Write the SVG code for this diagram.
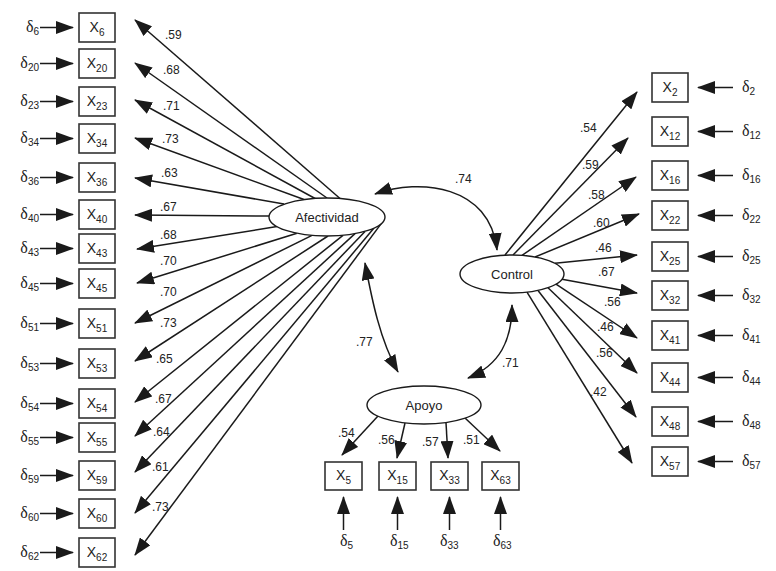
<svg xmlns="http://www.w3.org/2000/svg" width="776" height="571" viewBox="0 0 776 571">
<style>
.box{fill:#fff;stroke:#333;stroke-width:1.6}
.lat{fill:#fff;stroke:#1a1a1a;stroke-width:1.4}
.lnA{fill:none;stroke:#1a1a1a;stroke-width:1.5;marker-end:url(#ah)}
.lnB{fill:none;stroke:#1a1a1a;stroke-width:1.5;marker-start:url(#ah);marker-end:url(#ah)}
.x{font-family:"Liberation Sans",Arial,sans-serif;font-size:14px;fill:#222;text-anchor:middle}
.d{font-family:"Liberation Serif","Times New Roman",serif;font-size:16px;fill:#222}
.s{font-family:"Liberation Sans",Arial,sans-serif;font-size:10px}
.n{font-family:"Liberation Sans",Arial,sans-serif;font-size:12px;fill:#222}
.lt{font-family:"Liberation Sans",Arial,sans-serif;font-size:13px;fill:#222;text-anchor:middle}
</style>
<defs>
<marker id="ah" viewBox="0 0 18 13" refX="17" refY="6.5" markerWidth="18" markerHeight="13" markerUnits="userSpaceOnUse" orient="auto-start-reverse">
<path d="M0,0 L18,6.5 L0,13 z" fill="#1a1a1a"/>
</marker>
</defs>
<rect width="776" height="571" fill="#fff"/>

<g id="connectors">
<line class="lnA" x1="340" y1="198.5" x2="135" y2="20"/>
<line class="lnA" x1="327" y1="198" x2="135" y2="63"/>
<line class="lnA" x1="316" y1="199" x2="135" y2="100"/>
<line class="lnA" x1="304" y1="199.5" x2="135" y2="138"/>
<line class="lnA" x1="284" y1="204" x2="135" y2="178"/>
<line class="lnA" x1="269" y1="216" x2="135" y2="215"/>
<line class="lnA" x1="277" y1="226.6" x2="137" y2="249"/>
<line class="lnA" x1="297" y1="233.3" x2="137" y2="283"/>
<line class="lnA" x1="312" y1="235.4" x2="135" y2="323"/>
<line class="lnA" x1="328" y1="236" x2="135" y2="361"/>
<line class="lnA" x1="343" y1="235.3" x2="135" y2="402"/>
<line class="lnA" x1="355" y1="233.6" x2="135" y2="436"/>
<line class="lnA" x1="365" y1="231.4" x2="135" y2="472"/>
<line class="lnA" x1="374" y1="228.1" x2="135" y2="513"/>
<line class="lnA" x1="381" y1="223.9" x2="135" y2="555"/>
<line class="lnA" x1="505" y1="255" x2="637" y2="92"/>
<line class="lnA" x1="513" y1="255" x2="628" y2="138"/>
<line class="lnA" x1="522" y1="255.3" x2="636" y2="177"/>
<line class="lnA" x1="535" y1="257" x2="639" y2="214"/>
<line class="lnA" x1="555" y1="263.3" x2="637" y2="255"/>
<line class="lnA" x1="562" y1="279.2" x2="637" y2="293"/>
<line class="lnA" x1="556" y1="284.1" x2="637" y2="338"/>
<line class="lnA" x1="548" y1="287.7" x2="637" y2="373"/>
<line class="lnA" x1="538" y1="290.5" x2="636" y2="417"/>
<line class="lnA" x1="527" y1="292.2" x2="632" y2="463"/>
<line class="lnA" x1="378" y1="416" x2="342" y2="455"/>
<line class="lnA" x1="405" y1="423" x2="397" y2="458"/>
<line class="lnA" x1="446" y1="422.5" x2="448" y2="458"/>
<line class="lnA" x1="465" y1="418" x2="500" y2="451"/>
<path class="lnB" d="M375,194 C420,178 490,185 497,250"/>
<path class="lnB" d="M365,263 C372,300 380,340 398,372"/>
<path class="lnB" d="M512,305 C512,340 500,365 468,378"/>
<line class="lnA" x1="40" y1="27.5" x2="73" y2="27.5"/>
<line class="lnA" x1="40" y1="63.5" x2="73" y2="63.5"/>
<line class="lnA" x1="40" y1="101.5" x2="73" y2="101.5"/>
<line class="lnA" x1="40" y1="138.5" x2="73" y2="138.5"/>
<line class="lnA" x1="40" y1="177.5" x2="73" y2="177.5"/>
<line class="lnA" x1="40" y1="214.5" x2="73" y2="214.5"/>
<line class="lnA" x1="40" y1="248.5" x2="73" y2="248.5"/>
<line class="lnA" x1="40" y1="283.5" x2="73" y2="283.5"/>
<line class="lnA" x1="40" y1="323.5" x2="73" y2="323.5"/>
<line class="lnA" x1="40" y1="363.5" x2="73" y2="363.5"/>
<line class="lnA" x1="40" y1="403.5" x2="73" y2="403.5"/>
<line class="lnA" x1="40" y1="437.5" x2="73" y2="437.5"/>
<line class="lnA" x1="40" y1="475.5" x2="73" y2="475.5"/>
<line class="lnA" x1="40" y1="513.5" x2="73" y2="513.5"/>
<line class="lnA" x1="40" y1="552.5" x2="73" y2="552.5"/>
<line class="lnA" x1="733" y1="87.5" x2="698" y2="87.5"/>
<line class="lnA" x1="733" y1="131.5" x2="698" y2="131.5"/>
<line class="lnA" x1="733" y1="175.5" x2="698" y2="175.5"/>
<line class="lnA" x1="733" y1="215.5" x2="698" y2="215.5"/>
<line class="lnA" x1="733" y1="256.5" x2="698" y2="256.5"/>
<line class="lnA" x1="733" y1="295.5" x2="698" y2="295.5"/>
<line class="lnA" x1="733" y1="335.5" x2="698" y2="335.5"/>
<line class="lnA" x1="733" y1="377.5" x2="698" y2="377.5"/>
<line class="lnA" x1="733" y1="421.5" x2="698" y2="421.5"/>
<line class="lnA" x1="733" y1="461.5" x2="698" y2="461.5"/>
<line class="lnA" x1="343.5" y1="530" x2="343.5" y2="497"/>
<line class="lnA" x1="397.5" y1="530" x2="397.5" y2="497"/>
<line class="lnA" x1="449.5" y1="530" x2="449.5" y2="497"/>
<line class="lnA" x1="500.5" y1="530" x2="500.5" y2="497"/>
</g>

<g id="labels">
<text class="n" x="165" y="39">.59</text>
<text class="n" x="163" y="74">.68</text>
<text class="n" x="163" y="110">.71</text>
<text class="n" x="162" y="143">.73</text>
<text class="n" x="161" y="177">.63</text>
<text class="n" x="160" y="211">.67</text>
<text class="n" x="160" y="239">.68</text>
<text class="n" x="160" y="265">.70</text>
<text class="n" x="160" y="296">.70</text>
<text class="n" x="160" y="327">.73</text>
<text class="n" x="156" y="363">.65</text>
<text class="n" x="155" y="403">.67</text>
<text class="n" x="153" y="436">.64</text>
<text class="n" x="152" y="471">.61</text>
<text class="n" x="152" y="511">.73</text>
<text class="n" x="580" y="132">.54</text>
<text class="n" x="582" y="169">.59</text>
<text class="n" x="588" y="199">.58</text>
<text class="n" x="593" y="227">.60</text>
<text class="n" x="595" y="252">.46</text>
<text class="n" x="598" y="276">.67</text>
<text class="n" x="604" y="306">.56</text>
<text class="n" x="597" y="331">.46</text>
<text class="n" x="596" y="357">.56</text>
<text class="n" x="590" y="396">.42</text>
<text class="n" x="338" y="437">.54</text>
<text class="n" x="378" y="444">.56</text>
<text class="n" x="422" y="446">.57</text>
<text class="n" x="463" y="444">.51</text>
<text class="n" x="455" y="183">.74</text>
<text class="n" x="356" y="346">.77</text>
<text class="n" x="502" y="367">.71</text>
</g>

<g id="Afectividad"><ellipse class="lat" cx="327" cy="217" rx="58" ry="19"/><text class="lt" x="327" y="221.5">Afectividad</text></g>
<g id="Control"><ellipse class="lat" cx="512" cy="274" rx="52" ry="19"/><text class="lt" x="512" y="278.5">Control</text></g>
<g id="Apoyo"><ellipse class="lat" cx="424" cy="405" rx="57" ry="19"/><text class="lt" x="424" y="409.5">Apoyo</text></g>

<g id="X6"><rect class="box" x="79" y="13" width="36" height="29"/><text class="x" x="97" y="32">X<tspan class="s" dy="4">6</tspan></text><text class="d" x="39" y="32" text-anchor="end">δ<tspan class="s" dy="3">6</tspan></text></g>
<g id="X20"><rect class="box" x="79" y="49" width="36" height="29"/><text class="x" x="97" y="68">X<tspan class="s" dy="4">20</tspan></text><text class="d" x="39" y="68" text-anchor="end">δ<tspan class="s" dy="3">20</tspan></text></g>
<g id="X23"><rect class="box" x="79" y="87" width="36" height="29"/><text class="x" x="97" y="106">X<tspan class="s" dy="4">23</tspan></text><text class="d" x="39" y="106" text-anchor="end">δ<tspan class="s" dy="3">23</tspan></text></g>
<g id="X34"><rect class="box" x="79" y="124" width="36" height="29"/><text class="x" x="97" y="143">X<tspan class="s" dy="4">34</tspan></text><text class="d" x="39" y="143" text-anchor="end">δ<tspan class="s" dy="3">34</tspan></text></g>
<g id="X36"><rect class="box" x="79" y="163" width="36" height="29"/><text class="x" x="97" y="182">X<tspan class="s" dy="4">36</tspan></text><text class="d" x="39" y="182" text-anchor="end">δ<tspan class="s" dy="3">36</tspan></text></g>
<g id="X40"><rect class="box" x="79" y="200" width="36" height="29"/><text class="x" x="97" y="219">X<tspan class="s" dy="4">40</tspan></text><text class="d" x="39" y="219" text-anchor="end">δ<tspan class="s" dy="3">40</tspan></text></g>
<g id="X43"><rect class="box" x="79" y="234" width="36" height="29"/><text class="x" x="97" y="253">X<tspan class="s" dy="4">43</tspan></text><text class="d" x="39" y="253" text-anchor="end">δ<tspan class="s" dy="3">43</tspan></text></g>
<g id="X45"><rect class="box" x="79" y="269" width="36" height="29"/><text class="x" x="97" y="288">X<tspan class="s" dy="4">45</tspan></text><text class="d" x="39" y="288" text-anchor="end">δ<tspan class="s" dy="3">45</tspan></text></g>
<g id="X51"><rect class="box" x="79" y="309" width="36" height="29"/><text class="x" x="97" y="328">X<tspan class="s" dy="4">51</tspan></text><text class="d" x="39" y="328" text-anchor="end">δ<tspan class="s" dy="3">51</tspan></text></g>
<g id="X53"><rect class="box" x="79" y="349" width="36" height="29"/><text class="x" x="97" y="368">X<tspan class="s" dy="4">53</tspan></text><text class="d" x="39" y="368" text-anchor="end">δ<tspan class="s" dy="3">53</tspan></text></g>
<g id="X54"><rect class="box" x="79" y="389" width="36" height="29"/><text class="x" x="97" y="408">X<tspan class="s" dy="4">54</tspan></text><text class="d" x="39" y="408" text-anchor="end">δ<tspan class="s" dy="3">54</tspan></text></g>
<g id="X55"><rect class="box" x="79" y="423" width="36" height="29"/><text class="x" x="97" y="442">X<tspan class="s" dy="4">55</tspan></text><text class="d" x="39" y="442" text-anchor="end">δ<tspan class="s" dy="3">55</tspan></text></g>
<g id="X59"><rect class="box" x="79" y="461" width="36" height="29"/><text class="x" x="97" y="480">X<tspan class="s" dy="4">59</tspan></text><text class="d" x="39" y="480" text-anchor="end">δ<tspan class="s" dy="3">59</tspan></text></g>
<g id="X60"><rect class="box" x="79" y="499" width="36" height="29"/><text class="x" x="97" y="518">X<tspan class="s" dy="4">60</tspan></text><text class="d" x="39" y="518" text-anchor="end">δ<tspan class="s" dy="3">60</tspan></text></g>
<g id="X62"><rect class="box" x="79" y="538" width="36" height="29"/><text class="x" x="97" y="557">X<tspan class="s" dy="4">62</tspan></text><text class="d" x="39" y="557" text-anchor="end">δ<tspan class="s" dy="3">62</tspan></text></g>

<g id="X2"><rect class="box" x="652" y="73" width="36" height="29"/><text class="x" x="670" y="92">X<tspan class="s" dy="4">2</tspan></text><text class="d" x="742" y="92">δ<tspan class="s" dy="3">2</tspan></text></g>
<g id="X12"><rect class="box" x="652" y="117" width="36" height="29"/><text class="x" x="670" y="136">X<tspan class="s" dy="4">12</tspan></text><text class="d" x="742" y="136">δ<tspan class="s" dy="3">12</tspan></text></g>
<g id="X16"><rect class="box" x="652" y="161" width="36" height="29"/><text class="x" x="670" y="180">X<tspan class="s" dy="4">16</tspan></text><text class="d" x="742" y="180">δ<tspan class="s" dy="3">16</tspan></text></g>
<g id="X22"><rect class="box" x="652" y="201" width="36" height="29"/><text class="x" x="670" y="220">X<tspan class="s" dy="4">22</tspan></text><text class="d" x="742" y="220">δ<tspan class="s" dy="3">22</tspan></text></g>
<g id="X25"><rect class="box" x="652" y="242" width="36" height="29"/><text class="x" x="670" y="261">X<tspan class="s" dy="4">25</tspan></text><text class="d" x="742" y="261">δ<tspan class="s" dy="3">25</tspan></text></g>
<g id="X32"><rect class="box" x="652" y="281" width="36" height="29"/><text class="x" x="670" y="300">X<tspan class="s" dy="4">32</tspan></text><text class="d" x="742" y="300">δ<tspan class="s" dy="3">32</tspan></text></g>
<g id="X41"><rect class="box" x="652" y="321" width="36" height="29"/><text class="x" x="670" y="340">X<tspan class="s" dy="4">41</tspan></text><text class="d" x="742" y="340">δ<tspan class="s" dy="3">41</tspan></text></g>
<g id="X44"><rect class="box" x="652" y="363" width="36" height="29"/><text class="x" x="670" y="382">X<tspan class="s" dy="4">44</tspan></text><text class="d" x="742" y="382">δ<tspan class="s" dy="3">44</tspan></text></g>
<g id="X48"><rect class="box" x="652" y="407" width="36" height="29"/><text class="x" x="670" y="426">X<tspan class="s" dy="4">48</tspan></text><text class="d" x="742" y="426">δ<tspan class="s" dy="3">48</tspan></text></g>
<g id="X57"><rect class="box" x="652" y="447" width="36" height="29"/><text class="x" x="670" y="466">X<tspan class="s" dy="4">57</tspan></text><text class="d" x="742" y="466">δ<tspan class="s" dy="3">57</tspan></text></g>

<g id="X5"><rect class="box" x="325" y="462" width="37" height="28"/><text class="x" x="343.5" y="480">X<tspan class="s" dy="4">5</tspan></text><text class="d" x="340" y="546">δ<tspan class="s" dy="3">5</tspan></text></g>
<g id="X15"><rect class="box" x="379" y="462" width="37" height="28"/><text class="x" x="397.5" y="480">X<tspan class="s" dy="4">15</tspan></text><text class="d" x="390" y="546">δ<tspan class="s" dy="3">15</tspan></text></g>
<g id="X33"><rect class="box" x="431" y="462" width="37" height="28"/><text class="x" x="449.5" y="480">X<tspan class="s" dy="4">33</tspan></text><text class="d" x="440" y="546">δ<tspan class="s" dy="3">33</tspan></text></g>
<g id="X63"><rect class="box" x="482" y="462" width="37" height="28"/><text class="x" x="500.5" y="480">X<tspan class="s" dy="4">63</tspan></text><text class="d" x="493" y="546">δ<tspan class="s" dy="3">63</tspan></text></g>
</svg>
